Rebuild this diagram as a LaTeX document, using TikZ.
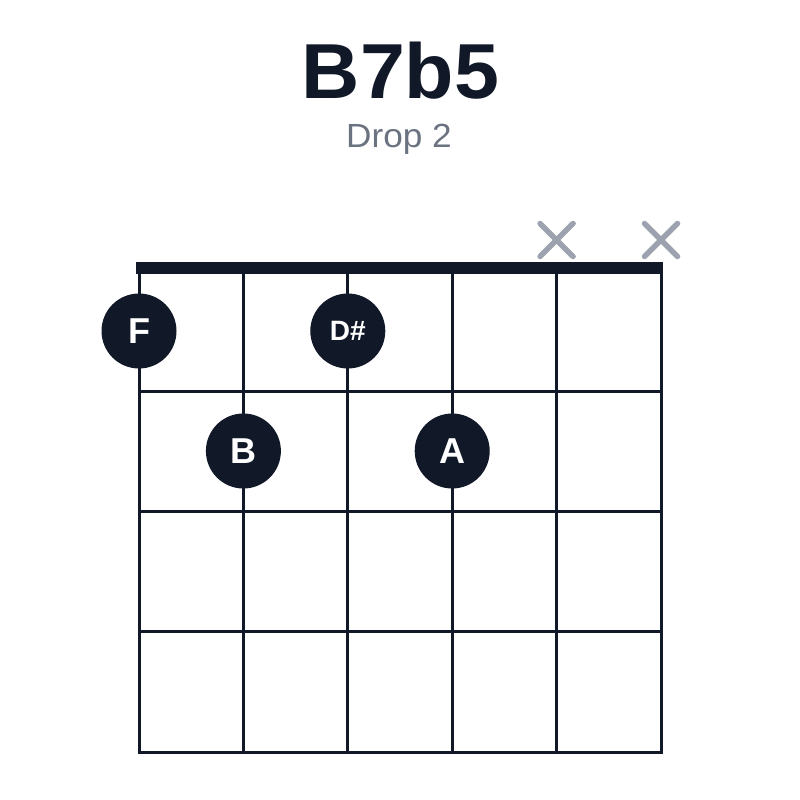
\documentclass[tikz,border=0pt]{standalone}
\usepackage{fontspec}
\setmainfont{Liberation Sans}
\definecolor{ink}{HTML}{111827}
\definecolor{xgray}{HTML}{9CA3AF}
\definecolor{subgray}{HTML}{6B7280}
\begin{document}
\begin{tikzpicture}[x=1pt,y=-1pt,
  gridline/.style={draw=ink,line width=3pt},
  nutbar/.style={fill=ink},
  dot/.style={circle,fill=ink,minimum size=75pt,inner sep=0pt,text=white,font=\bfseries\fontsize{36}{36}\selectfont},
  smalldot/.style={dot,font=\bfseries\fontsize{28}{28}\selectfont},
  mute/.style={draw=xgray,line width=5.5pt,line cap=round}]
\useasboundingbox (0,0) rectangle (800,800);
% title
\node[anchor=base,text=ink,font=\bfseries\fontsize{78}{78}\selectfont,inner sep=0pt] (title) at (400.5,98.3) {\scalebox{1.035}[1]{B7b5}};
\node[anchor=base,text=subgray,font=\fontsize{33.5}{33.5}\selectfont,inner sep=0pt] (sub) at (399,147.3) {\scalebox{1.05}[1]{Drop 2}};
% strings
\foreach \i in {0,...,5} {
  \draw[gridline] ({139+104.4*\i},268) -- ({139+104.4*\i},752);
}
% frets
\foreach \y in {391,511.3,631.7,752} {
  \draw[gridline] (137.5,\y) -- (662.5,\y);
}
% nut
\fill[nutbar] (136,262) rectangle (663,274);
% mutes
\foreach \c in {556.6,661} {
  \draw[mute] (\c-16.5,240-16.5) -- (\c+16.5,240+16.5);
  \draw[mute] (\c-16.5,240+16.5) -- (\c+16.5,240-16.5);
}
% dots
\node[dot] (f) at (139,331) {F};
\node[smalldot] (ds) at (347.8,331) {D\#};
\node[dot] (b) at (243.4,451) {B};
\node[dot] (a) at (452.2,451) {A};
\end{tikzpicture}
\end{document}
